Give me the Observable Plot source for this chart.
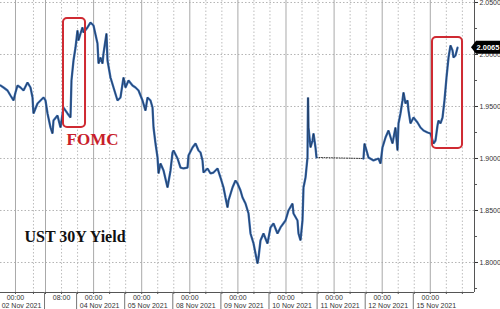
<!DOCTYPE html>
<html>
<head>
<meta charset="utf-8">
<script src="https://cdn.jsdelivr.net/npm/d3@7"></script>
<script src="https://cdn.jsdelivr.net/npm/@observablehq/plot@0.6"></script>
<style>
  html, body { margin: 0; padding: 0; background: #fff; }
</style>
</head>
<body>
<div id="chart"></div>
<script>
// ---- Data (x = trading-session day index from 02 Nov 2021, y = UST 30Y yield) ----
const timesA = [
  0.064,0.127,0.210,0.272,0.335,0.376,0.418,0.480,0.543,0.626,
  0.688,0.730,0.750,0.834,0.896,0.958,1.000,1.042,1.104,1.146,
  1.166,1.249,1.312,1.374,1.457,1.520,1.540,1.582,1.624,1.665,
  1.686,1.728,1.769,1.790,1.873,1.935,1.998,2.081,2.102,2.144,
  2.185,2.206,2.268,2.289,2.351,2.414,2.497,2.559,2.622,2.663,
  2.726,2.809,2.871,2.934,3.017,3.079,3.121,3.183,3.225,3.246,
  3.287,3.329,3.350,3.391,3.454,3.537,3.599,3.641,3.662,3.745,
  3.807,3.870,3.953,3.973,4.057,4.119,4.181,4.223,4.264,4.285,
  4.368,4.431,4.493,4.576,4.638,4.701,4.742,4.784,4.805,4.888,
  4.950,4.992,5.054,5.096,5.158,5.221,5.262,5.325,5.366,5.408,
  5.429,5.470,5.532,5.615,5.678,5.740,5.823,5.886,5.990,6.052,
  6.135,6.156,6.239,6.260,6.302,6.343,6.364,6.406,6.447,6.458,
  6.468,6.510,6.551,6.572,6.613,6.634
];
const yieldsA = [
  1.9702,1.9683,1.9654,1.9606,1.9558,1.9635,1.9702,1.9683,1.9654,1.9731,
  1.9683,1.9587,1.9433,1.9529,1.9558,1.9587,1.9558,1.9433,1.9298,1.9240,
  1.9365,1.9413,1.9298,1.9490,1.9433,1.9394,1.9750,1.9942,2.0067,2.0231,
  2.0135,2.0202,2.0260,2.0212,2.0260,2.0308,2.0279,2.0106,1.9913,1.9971,
  1.9913,2.0010,2.0202,1.9942,1.9779,1.9683,1.9558,1.9587,1.9779,1.9683,
  1.9750,1.9702,1.9683,1.9654,1.9558,1.9461,1.9587,1.9558,1.9490,1.9298,
  1.9144,1.9010,1.8856,1.8952,1.8885,1.8721,1.8885,1.9058,1.9077,1.9000,
  1.8913,1.8904,1.8913,1.9029,1.9106,1.9144,1.9077,1.9058,1.8981,1.8865,
  1.8904,1.8856,1.8865,1.8904,1.8817,1.8721,1.8625,1.8529,1.8596,1.8721,
  1.8788,1.8760,1.8692,1.8625,1.8567,1.8471,1.8279,1.8183,1.8087,1.7990,
  1.8048,1.8212,1.8279,1.8183,1.8337,1.8375,1.8279,1.8337,1.8404,1.8500,
  1.8567,1.8471,1.8404,1.8279,1.8212,1.8404,1.8721,1.8817,1.9010,1.9587,
  1.9298,1.9106,1.9173,1.9240,1.9106,1.9010
];
const timesB = [
  7.611,7.632,7.674,7.715,7.819,7.923,7.965,8.006,8.069,8.131,
  8.214,8.276,8.318,8.339,8.380,8.422,8.443,8.484,8.526,8.547,
  8.588,8.651,8.734,8.796,8.859,8.942,9.004,9.067,9.108,9.150,
  9.171,9.212,9.254,9.295,9.337,9.358,9.379,9.420,9.462,9.483,
  9.524,9.566
];
const yieldsB = [
  1.9000,1.9144,1.9077,1.9010,1.8981,1.9000,1.8952,1.9106,1.9202,1.9269,
  1.9144,1.9298,1.9077,1.9337,1.9433,1.9558,1.9635,1.9529,1.9558,1.9461,
  1.9337,1.9394,1.9346,1.9298,1.9269,1.9250,1.9240,1.9144,1.9173,1.9317,
  1.9365,1.9337,1.9394,1.9558,1.9779,1.9875,1.9971,2.0087,2.0038,1.9971,
  1.9990,2.0065
];
// Market holiday (11 Nov) connector
const gapTimes = [6.634, 7.611];
const gapYields = [1.9010, 1.9000];

// Axis ticks
const yTicks = [1.80, 1.85, 1.90, 1.95, 2.00, 2.05];
const yMinorTicks = [1.775, 1.825, 1.875, 1.925, 1.975, 2.025];
const tickPos = [0.376, 1.333, 2, 3, 4, 5, 6, 7, 8, 9];
const timeLabels = ["00:00","08:00","00:00","00:00","00:00","00:00","00:00","00:00","00:00","00:00"];
const dateLabels = ["02 Nov 2021","","04 Nov 2021","05 Nov 2021","08 Nov 2021","09 Nov 2021","10 Nov 2021","11 Nov 2021","12 Nov 2021","15 Nov 2021"];
const dayStarts = [1, 2, 3, 4, 5, 6, 7, 8, 9];

// Annotations
const boxX1 = [1.374, 9.046];
const boxX2 = [1.832, 9.670];
const boxY1 = [1.9298, 1.9096];
const boxY2 = [2.0346, 2.0163];
const noteText = ["FOMC", "UST 30Y Yield"];
const noteX = [1.977, 0.563];
const noteY = [1.9183, 1.8250];

// ---- Build ----
const xDomain = [0.0644, 9.919];
const yDomain = [1.77115, 2.05192];
const ySpan = yDomain[1] - yDomain[0];
const plotH = 292;
const yBelow = (px) => yDomain[0] - ySpan * px / plotH;

const seriesA = timesA.map((t, i) => ({t, v: yieldsA[i]}));
const seriesB = timesB.map((t, i) => ({t, v: yieldsB[i]}));
const gap = gapTimes.map((t, i) => ({t, v: gapYields[i]}));
const solidGrid = [tickPos[0], ...dayStarts];
const dottedGrid = [0.75, ...dayStarts.flatMap(k => [k + 1/3, k + 2/3])];
const boxes = boxX1.map((x1, i) => ({x1, x2: boxX2[i], y1: boxY1[i], y2: boxY2[i]}));
const notes = noteText.map((text, i) => ({text, x: noteX[i], y: noteY[i]}));
const ticksIdx = tickPos.map((_, i) => i);
const lastValue = yieldsB[yieldsB.length - 1];

function lastTag(index, scales, values, dimensions) {
  const sx = scales.x, sy = scales.y;
  const W = dimensions.width;
  const px = sx(xDomain[1]);
  const py = sy(lastValue);
  const h = 13;
  const g = d3.create("svg:g");
  g.append("path")
    .attr("d", `M${px - 3},${py} L${px + 2},${py - h/2} L${W},${py - h/2} L${W},${py + h/2} L${px + 2},${py + h/2} Z`)
    .attr("fill", "#000");
  g.append("text")
    .attr("x", (px + 2 + W) / 2)
    .attr("y", py)
    .attr("dy", "0.36em")
    .attr("text-anchor", "middle")
    .attr("fill", "#fff")
    .attr("font-size", 7.5)
    .attr("font-weight", "bold")
    .attr("font-family", "Liberation Sans, Arial, sans-serif")
    .text(d3.format(".4f")(lastValue));
  return g.node();
}

const chart = Plot.plot({
  width: 500,
  height: 309,
  marginLeft: 0,
  marginRight: 26,
  marginTop: 0,
  marginBottom: 17,
  x: {domain: xDomain, axis: null},
  y: {domain: yDomain},
  style: {fontFamily: "Liberation Sans, Arial, sans-serif", fontSize: "7px", background: "#fff", color: "#333", overflow: "visible"},
  marks: [
    // grid
    Plot.ruleY(yTicks, {stroke: "#b5b5b5", strokeDasharray: "1.5,2", strokeOpacity: 1}),
    Plot.ruleX(dottedGrid, {stroke: "#bdbdbd", strokeDasharray: "1.5,2", strokeOpacity: 1}),
    Plot.ruleX(solidGrid, {stroke: "#a9a9a9", strokeWidth: 1, strokeOpacity: 1}),
    // holiday connector
    Plot.line(gap, {x: "t", y: "v", stroke: "#333", strokeWidth: 1, strokeDasharray: "1,1.5"}),
    // yield line
    Plot.line(seriesA, {x: "t", y: "v", stroke: "#3a6db3", strokeWidth: 2.3, strokeLinejoin: "miter"}),
    Plot.line(seriesB, {x: "t", y: "v", stroke: "#3a6db3", strokeWidth: 2.3, strokeLinejoin: "miter"}),
    Plot.line(seriesA, {x: "t", y: "v", stroke: "#151d2a", strokeWidth: 0.9, strokeOpacity: 0.6}),
    Plot.line(seriesB, {x: "t", y: "v", stroke: "#151d2a", strokeWidth: 0.9, strokeOpacity: 0.6}),
    // annotation boxes
    Plot.rect(boxes, {x1: "x1", x2: "x2", y1: "y1", y2: "y2", fill: "none", stroke: "#cf2a32", strokeWidth: 2, rx: 4}),
    Plot.text(notes.slice(0, 1), {x: "x", y: "y", text: "text", fill: "#c8202a", fontSize: 17, fontWeight: "bold", fontFamily: "Liberation Serif, Times New Roman, serif", textAnchor: "middle"}),
    Plot.text(notes.slice(1), {x: "x", y: "y", text: "text", fill: "#111", fontSize: 16, fontWeight: "bold", fontFamily: "Liberation Serif, Times New Roman, serif", textAnchor: "start"}),
    // frame axes lines
    Plot.ruleY([yDomain[0]], {stroke: "#555"}),
    Plot.ruleX([xDomain[1]], {stroke: "#555"}),
    // right y axis
    Plot.axisY({anchor: "right", ticks: yTicks, tickFormat: d3.format(".4f"), tickSize: 3, tickPadding: 2, fontSize: 7, color: "#333", label: null}),
    Plot.axisY({anchor: "right", ticks: yMinorTicks, tickFormat: () => "", tickSize: 2, color: "#555", label: null}),
    // bottom axis: small ticks, separators and labels
    Plot.ruleX([...solidGrid, ...dottedGrid], {y1: yDomain[0], y2: yBelow(2), stroke: "#555"}),
    Plot.ruleX(tickPos.slice(1), {y1: yDomain[0], y2: yBelow(17), dx: -17, stroke: "#777"}),
    Plot.text(ticksIdx, {x: i => tickPos[i], text: i => timeLabels[i], frameAnchor: "bottom", dy: 5.5, lineAnchor: "middle", fill: "#333", fontSize: 7}),
    Plot.text(ticksIdx, {x: i => tickPos[i], text: i => dateLabels[i], frameAnchor: "bottom", dy: 13.5, dx: 6, lineAnchor: "middle", fill: "#333", fontSize: 7}),
    // last value tag
    lastTag
  ]
});
document.getElementById("chart").appendChild(chart);
</script>
</body>
</html>
